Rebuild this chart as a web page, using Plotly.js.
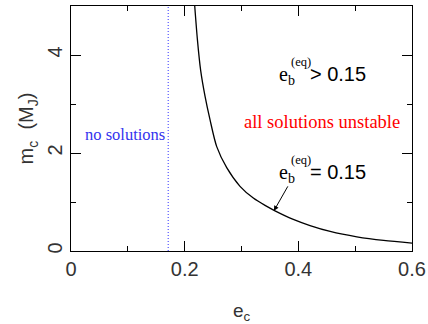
<!DOCTYPE html>
<html>
<head>
<meta charset="utf-8">
<script src="https://cdn.plot.ly/plotly-3.0.1.min.js"></script>
<style>
  html, body { margin: 0; padding: 0; background: #fff; }
  #chart { width: 428px; height: 324px; }
</style>
</head>
<body>
<div id="chart"></div>
<script>
// curve e_b(eq) = 0.15
const curveE = [0.2177, 0.2223, 0.2282, 0.2358, 0.2446, 0.2564, 0.274, 0.2974, 0.3208, 0.3414, 0.359, 0.39, 0.4206, 0.456, 0.503, 0.55, 0.6];
const curveM = [5.0, 4.33, 3.68, 3.16, 2.68, 2.13, 1.70, 1.32, 1.08, 0.93, 0.82, 0.65, 0.52, 0.40, 0.29, 0.215, 0.16];

// no-solutions boundary (dotted blue)
const boundaryE = [0.171, 0.171];
const boundaryM = [0, 5];

const SERIF = "Liberation Serif, Times New Roman, Times, serif";
const SANS = "Liberation Sans, Arial, sans-serif";

const traces = [
    {
        x: curveE, y: curveM,
        type: "scatter", mode: "lines",
        line: { color: "#000", width: 1.3, shape: "spline", smoothing: 0.8 },
        hoverinfo: "skip"
    },
    {
        x: boundaryE, y: boundaryM,
        type: "scatter", mode: "lines",
        line: { color: "#3333ff", width: 1, dash: "1px,2px" },
        hoverinfo: "skip"
    }
];

const axisBase = {
    showgrid: false, zeroline: false,
    showline: true, linecolor: "#000", linewidth: 1.3, mirror: "ticks",
    ticks: "inside", tickcolor: "#000", tickwidth: 1, ticklen: 10,
    tickfont: { family: SANS, size: 20, color: "#333" },
    fixedrange: true
};

const layout = {
    width: 428, height: 324,
    margin: { l: 71, r: 16, t: 6, b: 73 },
    paper_bgcolor: "#fff", plot_bgcolor: "#fff",
    showlegend: false,
    xaxis: Object.assign({}, axisBase, {
        range: [0, 0.6], tick0: 0, dtick: 0.2,
        minor: { dtick: 0.1, ticklen: 5, ticks: "inside", tickcolor: "#000", tickwidth: 1 },
        title: { text: "e<sub>c</sub>", font: { family: SANS, size: 19, color: "#333" }, standoff: 26 }
    }),
    yaxis: Object.assign({}, axisBase, {
        range: [0, 5], tick0: 0, dtick: 2, tickangle: -90,
        minor: { dtick: 1, ticklen: 5, ticks: "inside", tickcolor: "#000", tickwidth: 1 },
        title: { text: "m<sub>c</sub>&nbsp; (M<sub>J</sub>)", font: { family: SANS, size: 20, color: "#333" }, standoff: 4 }
    }),
    annotations: [
        { x: 0.0945, y: 2.37, text: "no solutions", showarrow: false,
          font: { family: SERIF, size: 16.5, color: "#3333ee" } },
        { x: 0.441, y: 2.63, text: "all solutions unstable", showarrow: false,
          font: { family: SERIF, size: 18.5, color: "#ff0000" } },
        { x: 0.3625, y: 3.58, xanchor: "left", showarrow: false,
          text: "e<sub>b</sub>&nbsp;&nbsp;&nbsp;<span style=\"font-family:Liberation Sans\">&gt; 0.15</span>",
          font: { family: SERIF, size: 20, color: "#000" } },
        { x: 0.3835, y: 3.86, xanchor: "left", text: "(eq)", showarrow: false,
          font: { family: SERIF, size: 12.5, color: "#000" } },
        { x: 0.3625, y: 1.58, xanchor: "left", showarrow: false,
          text: "e<sub>b</sub>&nbsp;&nbsp;&nbsp;<span style=\"font-family:Liberation Sans\">= 0.15</span>",
          font: { family: SERIF, size: 20, color: "#000" } },
        { x: 0.3835, y: 1.86, xanchor: "left", text: "(eq)", showarrow: false,
          font: { family: SERIF, size: 12.5, color: "#000" } },
        { x: 0.357, y: 0.82, ax: 0.383, ay: 1.35, axref: "x", ayref: "y",
          text: "", showarrow: true, arrowhead: 2, arrowsize: 1, arrowwidth: 1, arrowcolor: "#000" }
    ]
};

Plotly.newPlot("chart", traces, layout, { displayModeBar: false, staticPlot: true });
</script>
</body>
</html>
